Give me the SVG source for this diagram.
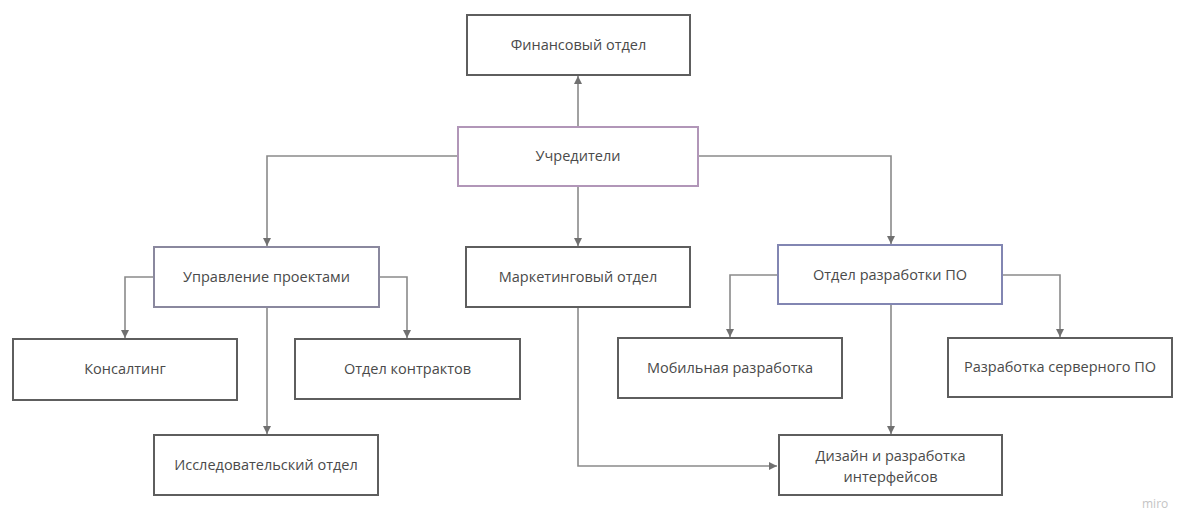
<svg xmlns="http://www.w3.org/2000/svg" width="1200" height="512" viewBox="0 0 1200 512">
<defs>
<marker id="ah" viewBox="0 0 10 10" refX="10" refY="5" markerWidth="8" markerHeight="8" markerUnits="userSpaceOnUse" orient="auto">
<path d="M0,0 L10,5 L0,10 z" fill="#707070"/>
</marker>
<style>
.box{fill:#fff;stroke:#5e5e5e;stroke-width:2}
.p1{stroke:#b196b8}
.p2{stroke:#8a889e}
.p3{stroke:#8286b2}
.t{font-family:"Open Sans","Noto Sans",sans-serif;font-size:14.5px;fill:#4a4a4a;text-anchor:middle}
.c{fill:none;stroke:#8a8a8a;stroke-width:1.6;marker-end:url(#ah)}
.wm{font-family:"Open Sans","Noto Sans",sans-serif;font-size:12px;fill:#c4c4c4}
</style>
</defs>
<rect width="1200" height="512" fill="#fff"/>
<g id="connectors">
<path class="c" d="M578,127 V76"/>
<path class="c" d="M458,156 H267 V246"/>
<path class="c" d="M698,156 H891 V244"/>
<path class="c" d="M578,186 V246"/>
<path class="c" d="M154,277 H125 V338"/>
<path class="c" d="M379,277 H407 V338"/>
<path class="c" d="M267,307 V434"/>
<path class="c" d="M778,275 H730 V337"/>
<path class="c" d="M1002,275 H1060 V337"/>
<path class="c" d="M891,304 V434"/>
<path class="c" d="M578,307 V466 H777"/>
</g>
<g id="n-fin"><rect class="box" x="467" y="15" width="223" height="60"/><text class="t" x="578.5" y="50">Финансовый отдел</text></g>
<g id="n-founders"><rect class="box p1" x="458" y="127" width="240" height="59"/><text class="t" x="578" y="161">Учредители</text></g>
<g id="n-pm"><rect class="box p2" x="154" y="247" width="225" height="60"/><text class="t" x="266.5" y="282">Управление проектами</text></g>
<g id="n-mkt"><rect class="box" x="466" y="247" width="224" height="60"/><text class="t" x="578" y="282">Маркетинговый отдел</text></g>
<g id="n-dev"><rect class="box p3" x="778" y="245" width="224" height="59"/><text class="t" x="890" y="280">Отдел разработки ПО</text></g>
<g id="n-cons"><rect class="box" x="13" y="339" width="224" height="61"/><text class="t" x="125" y="374">Консалтинг</text></g>
<g id="n-contr"><rect class="box" x="295" y="339" width="225" height="60"/><text class="t" x="407.5" y="374">Отдел контрактов</text></g>
<g id="n-mob"><rect class="box" x="618" y="338" width="224" height="60"/><text class="t" x="730" y="373">Мобильная разработка</text></g>
<g id="n-srv"><rect class="box" x="948" y="338" width="224" height="59"/><text class="t" x="1060" y="372">Разработка серверного ПО</text></g>
<g id="n-res"><rect class="box" x="154" y="435" width="224" height="60"/><text class="t" x="266" y="470">Исследовательский отдел</text></g>
<g id="n-ui"><rect class="box" x="779" y="435" width="223" height="60"/><text class="t" x="890.5" y="461">Дизайн и разработка</text><text class="t" x="890.5" y="482">интерфейсов</text></g>
<text class="wm" x="1142" y="508">miro</text>
</svg>
